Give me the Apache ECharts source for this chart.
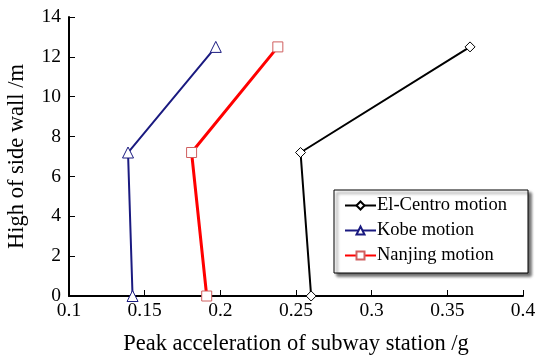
<!DOCTYPE html>
<html><head><meta charset="utf-8">
<script src="https://cdn.jsdelivr.net/npm/echarts@6/dist/echarts.min.js"></script>
<style>html,body{margin:0;padding:0;background:#fff}#c{width:540px;height:355px}</style>
</head><body><div id="c"></div>
<script>
const heights = [0, 7.2, 12.5];
const elCentro = [0.260, 0.253, 0.365];
const kobe = [0.142, 0.139, 0.197];
const nanjing = [0.191, 0.181, 0.238];
const seriesNames = ['El-Centro motion', 'Kobe motion', 'Nanjing motion'];

const font = 'Liberation Serif';
function pts(xs){ return xs.map((x,i)=>[x, heights[i]]); }
const chart = echarts.init(document.getElementById('c'));
chart.setOption({
  animation:false,
  textStyle:{fontFamily:font},
  grid:{left:69,right:17,top:17,bottom:59,containLabel:false,outerBoundsMode:'none'},
  xAxis:{type:'value',min:0.1,max:0.4,interval:0.05,
    name:'Peak acceleration of subway station /g',nameLocation:'middle',nameGap:37,
    nameTextStyle:{fontFamily:font,fontSize:22.5,color:'#000'},
    axisLine:{show:true,lineStyle:{color:'#000',width:2}},
    axisTick:{show:true,inside:true,length:6,lineStyle:{color:'#000',width:1}},
    axisLabel:{color:'#000',fontSize:19.5,fontFamily:font,margin:5,formatter:v=>String(+v.toFixed(2))},
    splitLine:{show:false}},
  yAxis:{type:'value',min:0,max:14,interval:2,
    name:'High of side wall /m',nameLocation:'middle',nameGap:40,
    nameTextStyle:{fontFamily:font,fontSize:22.5,color:'#000'},
    axisLine:{show:true,lineStyle:{color:'#000',width:2}},
    axisTick:{show:true,inside:true,length:6,lineStyle:{color:'#000',width:1}},
    axisLabel:{color:'#000',fontSize:19.5,fontFamily:font,margin:8},
    splitLine:{show:false}},
  legend:{show:true,right:12,top:190,orient:'vertical',
    data:seriesNames,
    itemWidth:31,itemHeight:10,itemGap:6,
    padding:[6,21,8,10],
    backgroundColor:'#fff',borderColor:'#000',borderWidth:1,
    shadowColor:'rgba(0,0,0,0.6)',shadowBlur:3,shadowOffsetX:3,shadowOffsetY:3,
    textStyle:{fontFamily:font,fontSize:18.5,color:'#000',padding:[0,0,0,-4]}},
  series:[
    {name:seriesNames[0],type:'line',data:pts(elCentro),symbol:'diamond',symbolSize:10,
      lineStyle:{color:'#000',width:2},itemStyle:{color:'#fff',borderColor:'#000',borderWidth:1},color:'#000'},
    {name:seriesNames[1],type:'line',data:pts(kobe),symbol:'triangle',symbolSize:11,
      lineStyle:{color:'#1a1a80',width:2},itemStyle:{color:'#fff',borderColor:'#1a1a80',borderWidth:1},color:'#1a1a80'},
    {name:seriesNames[2],type:'line',data:pts(nanjing),symbol:'rect',symbolSize:10,
      lineStyle:{color:'#ff0000',width:3},itemStyle:{color:'#fff',borderColor:'#d06060',borderWidth:1},color:'#ff0000'}
  ]
});
</script></body></html>
